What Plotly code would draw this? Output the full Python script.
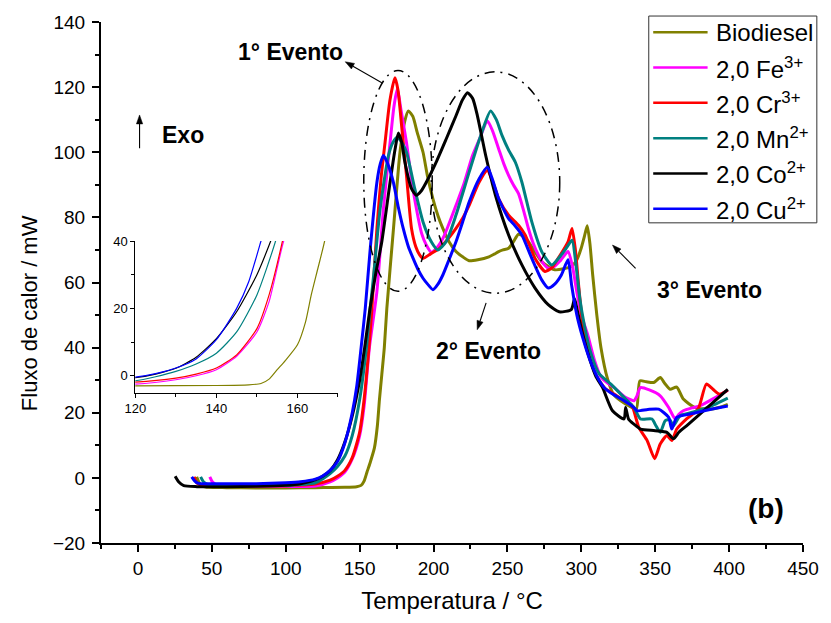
import math
import plotly.graph_objects as go

# ---- DSC curves: temperature (°C) and heat flow (mW) ----
biodiesel_t = [39.7, 41.5, 44, 48, 60, 80, 100, 120, 140, 148, 151, 153, 155, 157, 160, 162, 163.4, 165, 166.7,
               168.4, 172.8, 177.3, 180.5, 183, 186, 189, 192.9, 196, 199.6, 203, 206.3, 210.5, 215.2, 220, 224.1,
               230, 237.5, 241, 244.1, 247, 250.8, 254, 257.5, 261, 264.2, 268.5, 273.2, 278, 282.1, 288, 293.2,
               297, 299.9, 302, 304, 305.8, 307.7, 310.5, 313.3, 317.7, 322, 326.7, 332, 337.2, 339.6, 344, 349,
               353.4, 356.5, 360.1, 364.6, 369, 376.9, 386.9, 393, 399.1]
biodiesel_y = [0.3, -1.5, -2.6, -2.9, -3.0, -3.1, -3.1, -3.0, -2.9, -2.7, -2.3, -1.0, 1.8, 4.5, 9.2, 16, 24, 31.7, 40,
               52, 76, 100, 109.5, 112.7, 111, 106, 100, 92.5, 85.7, 80.5, 76.6, 72.5, 69.5, 67.8, 66.7,
               67, 67.9, 68.7, 69.5, 70, 70.5, 72.5, 74.8, 74, 72.5, 69.5, 66.4, 64.8, 63.9, 64.2, 64.9,
               67, 70.5, 74, 77.4, 72, 62.3, 50, 40, 30.5, 25.5, 23.7, 22.2, 21.1, 29.8, 29.5, 29.3,
               30.8, 29, 27.2, 27.9, 24.2, 21.6, 21.1, 21.6, 22.6]

fe_t = [48.6, 50.5, 54, 60, 80, 100, 120, 130, 135, 140, 145, 150, 153, 156.6, 161.7, 166.1, 170.6, 173.2, 175.5,
        178, 181.7, 185, 188.4, 192, 195.1, 198.5, 202, 206.3, 210, 215.2, 220.7, 226.4, 231.5, 236.4, 240, 244.1,
        247.5, 250.8, 254, 257.5, 261, 264.2, 267.5, 270.9, 274, 277.6, 282, 286, 291, 294, 297, 300, 304.3, 309,
        313.3, 318, 322.3, 329, 335.6, 337.5, 340, 346, 353.4, 359.1, 363.5, 366, 369, 375, 380.2, 390, 399.1]
fe_y = [0.3, -1.3, -2.3, -2.5, -2.6, -2.6, -2.5, -1.2, 0, 1.8, 5.8, 13, 22, 40, 57.3, 82.7, 103, 114, 119.5,
        113, 103, 92, 82.7, 75, 71.5, 69.3, 70.5, 73.5, 77.5, 83.7, 90.5, 99, 104.5, 109.7, 106.5, 101,
        96.5, 92.9, 90, 87.3, 82, 76.6, 72, 68.5, 66, 64.4, 65, 66.8, 69.5, 65, 57, 50, 44, 36,
        31, 29, 27.7, 25, 23.7, 25, 27.7, 27, 25.2, 21.6, 18.1, 19.5, 20.6, 21.5, 22.1, 24.5, 26.9]

cr_t = [38, 40, 44, 60, 80, 100, 120, 130, 135, 140, 145, 150, 153, 156.3, 158.3, 161.7, 164.5, 167.2, 170.5, 173.9,
        176, 178.4, 181.7, 185.1, 188, 190.6, 192.9, 198, 204, 210, 215.2, 220, 224.1, 230.8, 236.4, 240, 244.1,
        250.8, 257.5, 262, 268.7, 275.4, 280, 284.3, 291, 293.7, 296, 298, 301, 305, 310, 316, 323, 330, 334,
        338.9, 344.5, 349.6, 353.4, 357.9, 361.2, 364.6, 371.2, 379, 384.6, 389.1, 393.6, 399.1]
cr_y = [0.3, -1.6, -2.3, -2.4, -2.4, -2.4, -1.9, -0.7, 0.5, 2.3, 6.2, 14, 24, 40, 52, 76.6, 92, 103, 116, 122.9,
        119, 108.2, 92.9, 76.6, 71, 68.5, 67.4, 68.8, 70.5, 73.5, 76.6, 80, 83.7, 90.8, 94.4, 91, 85.7,
        80.7, 77.6, 74.6, 67.4, 63.4, 64.5, 67.4, 72.5, 76.6, 70, 60, 47, 38, 31.5, 27.5, 25.5, 23.5, 22.5,
        15.5, 11.5, 5.9, 10.4, 13, 11.5, 15, 18.1, 21.1, 28.8, 27.2, 25.7, 26.9]

mn_t = [42.4, 44.5, 48, 60, 80, 100, 120, 125, 130, 135, 140, 145, 150, 154.6, 157.2, 159.5, 163.9, 169.5, 172.5,
        175.5, 178.5, 181.7, 187.3, 192.9, 198.5, 202.9, 208.5, 215.2, 224.1, 231.9, 238.6, 242.5, 246.4, 251,
        255.3, 259.8, 266.5, 273.2, 279.9, 286.5, 290.5, 293.7, 296.5, 299, 302, 306, 312, 320, 330, 335.6, 340,
        347.8, 350.5, 353.4, 356.8, 360, 362.3, 366.8, 374, 382.4, 390, 399.1]
mn_y = [0.3, -1.3, -2.2, -2.3, -2.3, -2.3, -1.5, -0.3, 1.3, 3.5, 6.7, 13, 24, 40, 52.2, 62.3, 82.7, 99, 103,
        104.6, 103, 100, 88.8, 78.6, 72.5, 70, 72.5, 80.7, 93.9, 105.1, 112.7, 110, 105.1, 100.5,
        97, 90.8, 78.6, 69.5, 65.4, 68.5, 71, 73, 65, 55, 47, 39, 32, 28.8, 24.2, 21.6, 18.1,
        18.1, 16, 14, 17.6, 17.8, 16, 19.1, 20, 21.1, 22.5, 24.5]

co_t = [25.2, 27.5, 31, 40, 60, 80, 100, 110, 120, 125, 130, 135, 140, 145, 150, 153.4, 157, 161, 165, 170.6, 174,
        176.2, 178.5, 180.6, 185.1, 188.4, 191.5, 195.1, 201.8, 208.5, 215.2, 219.5, 223, 226.5, 229.7, 235.3,
        241.9, 250.8, 259.8, 268.7, 277.6, 285, 293.2, 295.4, 297, 301, 306, 310, 314.4, 321.1, 328.9, 330, 332,
        335.6, 340, 350, 357.9, 362.3, 366, 371.2, 385, 399.1]
co_y = [0.5, -1.2, -2.4, -2.7, -2.7, -2.6, -2.3, -1.8, -0.6, 0.5, 2.2, 5.5, 11, 19, 30, 40, 52, 63, 72.5, 90.8, 101,
        105.9, 103, 97, 88.8, 86.8, 88, 90.8, 97, 104, 111.2, 116, 118.3, 116.5, 111.2, 99,
        86.8, 74.6, 65.4, 58.3, 53.2, 51, 51.7, 55, 52, 44, 36, 31, 27.7, 20.6, 18.1, 21.6, 18,
        16.5, 15, 14.5, 14, 12, 14, 16, 21.5, 27.2]

cu_t = [36.4, 38.5, 41, 50, 80, 100, 110, 120, 125, 130, 135, 140, 145, 148, 151, 153.8, 157.2, 161.7, 164, 166.1,
        169, 172.8, 176, 179.5, 183, 186.2, 189.5, 192.9, 196, 199.6, 203, 206.3, 210.5, 215.2, 220, 224.1, 230.8,
        236.4, 240, 244.1, 250.8, 255, 259.8, 266.5, 273.2, 277.6, 282, 286.5, 291, 293.5, 297, 301, 306, 311,
        315.5, 322, 328.9, 335.6, 337.8, 345, 352.3, 359.1, 361.2, 364.6, 375.7, 387, 399.1]
cu_y = [0.3, -1.0, -1.7, -1.8, -1.8, -1.5, -1.2, -0.4, 0.6, 2.3, 5, 10.7, 20, 28, 40, 52, 70.5, 90.8, 96.5, 99,
        96.5, 90.8, 83.5, 76.6, 71, 67.4, 64, 61.3, 59.5, 57.8, 59.5, 62.3, 67, 72.5, 79, 84.7, 91.8,
        95.4, 91.5, 85.7, 79.6, 77.5, 74.6, 67.4, 60.8, 58.3, 59.5, 62.3, 67, 59, 50, 43, 36, 30.8,
        27.7, 25.5, 23.7, 21.6, 20.6, 21, 21.1, 18.6, 15, 18.6, 19.8, 21, 22.1]

series_names = ["Biodiesel", "2,0 Fe<sup>3+</sup>", "2,0 Cr<sup>3+</sup>",
                "2,0 Mn<sup>2+</sup>", "2,0 Co<sup>2+</sup>", "2,0 Cu<sup>2+</sup>"]
series_colors = ["#808000", "#FF00FF", "#FF0000", "#008080", "#000000", "#0000FF"]
series_t = [biodiesel_t, fe_t, cr_t, mn_t, co_t, cu_t]
series_y = [biodiesel_y, fe_y, cr_y, mn_y, co_y, cu_y]

# axis ticks
x_ticks = [0, 50, 100, 150, 200, 250, 300, 350, 400, 450]
y_ticks = [-20, 0, 20, 40, 60, 80, 100, 120, 140]
inset_x_ticks = [120, 140, 160]
inset_y_ticks = [0, 20, 40]

FONT = "Liberation Sans, Arial, Helvetica, sans-serif"

# plot-area pixel geometry (for placing paper-referenced decorations)
PL, PR, PT, PB = 101, 811, 19, 543


def paper_x(px):
    return (px - PL) / (PR - PL)


def paper_y(py):
    return (PB - py) / (PB - PT)


fig = go.Figure()

# main curves
for t, y, c in zip(series_t, series_y, series_colors):
    assert len(t) == len(y)
    fig.add_trace(go.Scatter(x=t, y=y, mode="lines", showlegend=False,
                             line=dict(color=c, width=3, shape="spline", smoothing=0.6),
                             xaxis="x", yaxis="y", hoverinfo="skip"))

# inset: onset region of the curves
for t, y, c in zip(series_t, series_y, series_colors):
    fig.add_trace(go.Scatter(x=t, y=y, mode="lines", showlegend=False,
                             line=dict(color=c, width=1.2, shape="spline", smoothing=0.6),
                             xaxis="x2", yaxis="y2", hoverinfo="skip"))

axis_common = dict(showgrid=False, zeroline=False, showline=True, linecolor="black",
                   ticks="outside", tickcolor="black")

fig.update_layout(
    width=831, height=623,
    margin=dict(l=PL, r=831 - PR, t=PT, b=623 - PB),
    paper_bgcolor="white", plot_bgcolor="white",
    font=dict(family=FONT, color="black"),
    xaxis=dict(**axis_common, range=[-25, 450], tickvals=x_ticks, linewidth=2, ticklen=7, tickwidth=1.5,
               minor=dict(dtick=25, tick0=0, ticks="outside", ticklen=4, tickwidth=1.5, tickcolor="black"),
               tickfont=dict(size=19), domain=[0, 1],
               title=dict(text="Temperatura / °C", font=dict(size=24), standoff=14)),
    yaxis=dict(**axis_common, range=[-20, 140], tickvals=y_ticks, linewidth=2, ticklen=7, tickwidth=1.5,
               minor=dict(dtick=10, tick0=0, ticks="outside", ticklen=4, tickwidth=1.5, tickcolor="black"),
               tickfont=dict(size=19), domain=[0, 1], ticklabelstandoff=3),
    xaxis2=dict(**axis_common, range=[120, 170], tickvals=inset_x_ticks, linewidth=1, ticklen=4, tickwidth=1,
                minor=dict(dtick=10, tick0=120, ticks="outside", ticklen=3, tickwidth=1, tickcolor="black"),
                tickfont=dict(size=13), anchor="y2",
                domain=[paper_x(135.7), paper_x(340.7)]),
    yaxis2=dict(**axis_common, range=[-5, 40], tickvals=inset_y_ticks, linewidth=1, ticklen=4, tickwidth=1,
                minor=dict(dtick=10, tick0=0, ticks="outside", ticklen=3, tickwidth=1, tickcolor="black"),
                tickfont=dict(size=13), anchor="x2",
                domain=[paper_y(391.7), paper_y(239.3)]),
)

shapes = []
ann = []

# y-axis title, placed a little below the axis centre
ann.append(dict(text="Fluxo de calor / mW", x=paper_x(28), y=paper_y(312), xref="paper", yref="paper",
                showarrow=False, textangle=-90, xanchor="center", yanchor="middle",
                font=dict(family=FONT, size=22, color="black")))

# dash-dot ellipses around the thermal events
ellipse_style = dict(color="black", width=1.5, dash="10px,6px,2px,6px")
shapes.append(dict(type="circle", xref="x", yref="y", x0=152.8, x1=199.1, y0=57.3, y1=125.1,
                   line=ellipse_style))
shapes.append(dict(type="circle", xref="x", yref="y", x0=198.5, x1=285.4, y0=56.7, y1=124.7,
                   line=ellipse_style))

# event labels
label_font = dict(family=FONT, size=23, color="black")
for txt, x, y in [("<b>1° Evento</b>", 103.5, 130.8), ("<b>2° Evento</b>", 237.5, 38.9),
                  ("<b>3° Evento</b>", 386.9, 57.8), ("<b>Exo</b>", 30.7, 105.3)]:
    ann.append(dict(text=txt, x=x, y=y, xref="x", yref="y", showarrow=False,
                    xanchor="center", yanchor="middle", font=label_font))
ann.append(dict(text="<b>(b)</b>", x=425.2, y=-9.3, xref="x", yref="y", showarrow=False,
                xanchor="center", yanchor="middle", font=dict(family=FONT, size=28, color="black")))


def arrow_shapes(hx, hy, tx, ty, head_len=9.0, half_w=3.2):
    """Thin arrow from tail (tx, ty) to head (hx, hy), given in page pixels."""
    dx, dy = hx - tx, hy - ty
    n = math.hypot(dx, dy)
    ux, uy = dx / n, dy / n
    bx, by = hx - ux * head_len, hy - uy * head_len
    px_, py_ = -uy, ux
    line = dict(type="line", xref="paper", yref="paper",
                x0=paper_x(tx), y0=paper_y(ty), x1=paper_x(bx), y1=paper_y(by),
                line=dict(color="black", width=1.1))
    pts = [(hx, hy), (bx + px_ * half_w, by + py_ * half_w), (bx - px_ * half_w, by - py_ * half_w)]
    path = "M " + " L ".join(f"{paper_x(a):.5f},{paper_y(b):.5f}" for a, b in pts) + " Z"
    head = dict(type="path", xref="paper", yref="paper", path=path,
                fillcolor="black", line=dict(color="black", width=0.5))
    return [line, head]


for hx, hy, tx, ty in [(140, 112.5, 140, 146), (348, 59, 385, 80),
                       (481.5, 328.5, 490.5, 301.5), (618.3, 243.3, 641.7, 266.7)]:
    shapes.extend(arrow_shapes(hx, hy, tx, ty))

# legend box
shapes.append(dict(type="rect", xref="paper", yref="paper",
                   x0=paper_x(655), x1=paper_x(825), y0=paper_y(221), y1=paper_y(13),
                   line=dict(color="#333333", width=1), fillcolor="rgba(0,0,0,0)", layer="above"))
for i, (name, c) in enumerate(zip(series_names, series_colors)):
    py = 29.3 + i * 35.5
    shapes.append(dict(type="line", xref="paper", yref="paper",
                       x0=paper_x(659.5), x1=paper_x(714.5), y0=paper_y(py), y1=paper_y(py),
                       line=dict(color=c, width=2.5)))
    ann.append(dict(text=name, x=paper_x(721), y=paper_y(py), xref="paper", yref="paper",
                    showarrow=False, xanchor="left", yanchor="middle",
                    font=dict(family=FONT, size=24, color="black")))

fig.update_layout(shapes=shapes, annotations=ann)

fig.write_html("out.html")
